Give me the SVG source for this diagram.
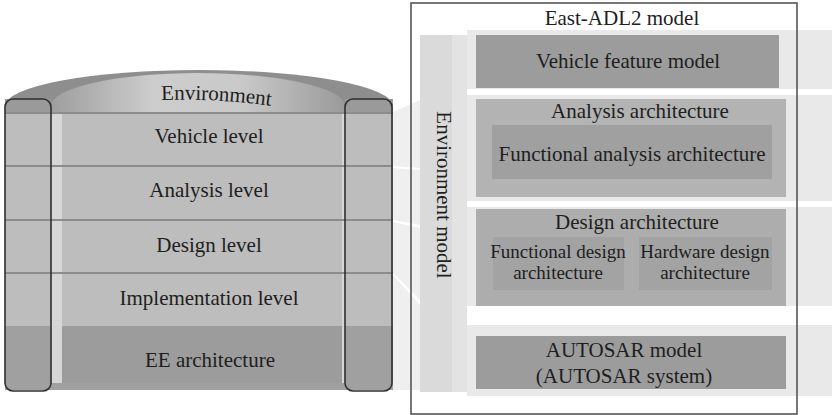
<svg xmlns="http://www.w3.org/2000/svg" width="832" height="415" viewBox="0 0 832 415">
<style>
text{font-family:"Liberation Serif","DejaVu Serif",serif;fill:#1e1e1e;text-anchor:middle}
.t21{font-size:21px}
.t19{font-size:19px}
.sep{stroke:#8c8c8c;stroke-width:2}
.pillar{fill:none;stroke:#2f2f2f;stroke-width:1.6}
.slab{fill:#e9e9e9}
.faint{fill:#efefef}
</style>
<defs>
<linearGradient id="face" x1="0" y1="0" x2="1" y2="0">
<stop offset="0" stop-color="#9e9e9e"/>
<stop offset="0.35" stop-color="#cdcdcd"/>
<stop offset="0.65" stop-color="#c9c9c9"/>
<stop offset="1" stop-color="#9a9a9a"/>
</linearGradient>
<path id="envArc" d="M 140 101 Q 215 96 292 109"/>
</defs>
<rect width="832" height="415" fill="#ffffff"/>

<!-- faint background planes -->
<g id="planes">
<polygon class="faint" points="393,112 420,100 420,168 393,166"/>
<polygon class="faint" points="393,168 420,170 420,225 393,220"/>
<polygon class="faint" points="393,222 420,228 420,300 393,273"/>
<polygon class="faint" points="393,275 420,305 420,390 393,390"/>
<rect class="slab" x="467" y="30" width="365" height="59"/>
<rect class="slab" x="467" y="95" width="365" height="106"/>
<rect class="slab" x="467" y="207" width="365" height="99"/>
<rect class="slab" x="467" y="325" width="365" height="71"/>
</g>

<!-- Left: cylinder -->
<g id="cylinder">
<path d="M 5 106 A 194 36 0 0 1 393 106 L 393 113 L 5 113 Z" fill="#8e8e8e"/>
<path d="M 51 112 L 51 106 A 147 33 0 0 1 345 106 L 345 112 Z" fill="url(#face)"/>
<rect x="5" y="99" width="46" height="14" fill="#9a9a9a"/>
<rect x="345" y="99" width="48" height="14" fill="#9a9a9a"/>
<rect x="5" y="112" width="388" height="214" fill="#bdbdbd"/>
<rect x="5" y="326" width="388" height="64" fill="#a0a0a0"/>
<rect x="51" y="112" width="11" height="271" fill="#d6d6d6"/>
<rect x="342" y="112" width="3" height="271" fill="#d6d6d6"/>
<rect x="62" y="326" width="280" height="57" fill="#9c9c9c"/>
<line class="sep" x1="5" y1="113" x2="393" y2="113"/>
<line class="sep" x1="5" y1="166" x2="393" y2="166"/>
<line class="sep" x1="5" y1="220" x2="393" y2="220"/>
<line class="sep" x1="5" y1="273" x2="393" y2="273"/>
<text class="t21"><textPath href="#envArc" startOffset="50%">Environment</textPath></text>
</g>
<g id="vehicle-level"><text class="t21" x="209" y="143">Vehicle level</text></g>
<g id="analysis-level"><text class="t21" x="209" y="197">Analysis level</text></g>
<g id="design-level"><text class="t21" x="209" y="252">Design level</text></g>
<g id="implementation-level"><text class="t21" x="209" y="305">Implementation level</text></g>
<g id="ee-architecture"><text class="t21" x="210" y="367">EE architecture</text></g>
<g id="pillars">
<rect class="pillar" x="5" y="99" width="46" height="292" rx="8"/>
<rect class="pillar" x="345" y="99" width="47" height="292" rx="8"/>
</g>

<!-- Right: East-ADL2 model -->
<g id="east-adl2">
<rect x="411" y="3" width="386" height="411" fill="none" stroke="#555555" stroke-width="1.6"/>
<text class="t21" x="622" y="25">East-ADL2 model</text>
</g>
<g id="environment-model">
<rect x="420" y="35" width="47" height="357" fill="#dadada"/>
<rect x="452" y="35" width="15" height="357" fill="#e3e3e3"/>
<text class="t21" transform="translate(437,195) rotate(90)">Environment model</text>
</g>
<g id="vehicle-feature-model">
<rect x="476" y="35" width="303" height="53" fill="#9c9c9c"/>
<text class="t21" x="628" y="68">Vehicle feature model</text>
</g>
<g id="analysis-architecture">
<rect x="476" y="99" width="310" height="98" fill="#b3b3b3"/>
<text class="t21" x="640" y="118">Analysis architecture</text>
</g>
<g id="functional-analysis-architecture">
<rect x="492" y="125" width="280" height="54" fill="#a0a0a0"/>
<text class="t21" x="632" y="161">Functional analysis architecture</text>
</g>
<g id="design-architecture">
<rect x="476" y="209" width="310" height="97" fill="#adadad"/>
<text class="t21" x="637" y="229">Design architecture</text>
</g>
<g id="functional-design-architecture">
<rect x="493" y="237" width="131" height="53" fill="#a3a3a3"/>
<text class="t19" x="558" y="258">Functional design</text>
<text class="t19" x="558" y="279">architecture</text>
</g>
<g id="hardware-design-architecture">
<rect x="639" y="237" width="133" height="53" fill="#a3a3a3"/>
<text class="t19" x="705" y="258">Hardware design</text>
<text class="t19" x="705" y="279">architecture</text>
</g>
<g id="autosar-model">
<rect x="476" y="336" width="310" height="53" fill="#9c9c9c"/>
<text class="t21" x="624" y="357">AUTOSAR model</text>
<text class="t21" x="624" y="383">(AUTOSAR system)</text>
</g>
<g id="connectors"></g>
</svg>
